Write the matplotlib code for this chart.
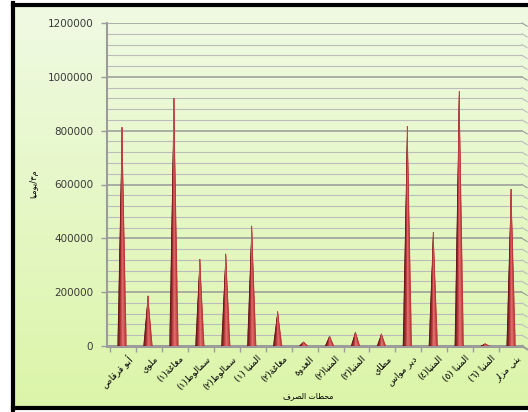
"""3D-style cone chart of daily discharge (m3/day) for Minya treatment plants."""

import matplotlib
matplotlib.use("Agg")

import matplotlib.pyplot as plt
import numpy as np
from matplotlib.colors import LinearSegmentedColormap
from matplotlib.lines import Line2D


# ---------------------------------------------------------------------------
# Data
# ---------------------------------------------------------------------------
PLANTS = [
    "أبو قرقاص", "ملوي", "مغاغة(١)", "سمالوط(١)", "سمالوط(٢)", "المنيا (١)",
    "مغاغة(٢)", "العدوة", "المنيا(٢)", "المنيا(٣)", "مطاي", "دير مواس",
    "المنيا(٤)", "المنيا (٥)", "المنيا (٦)", "بني مزار",
]
DISCHARGE = [
    812000, 186000, 921000, 323000, 342000, 446000,
    128000, 15000, 37000, 52000, 45000, 817000,
    423000, 947000, 8000, 583000,
]
Y_TICKS = [0, 200000, 400000, 600000, 800000, 1000000, 1200000]
X_TITLE = "محطات الصرف"
Y_TITLE = "م٣/يوميا"

# ---------------------------------------------------------------------------
# Style
# ---------------------------------------------------------------------------
WIDTH_PX, HEIGHT_PX = 528, 412
BG_TOP = (0.94, 0.98, 0.89)
BG_BOTTOM = (0.86, 0.96, 0.66)
GRID_MINOR = "#bcbcbc"
GRID_MAJOR = "#999999"
AXIS_GRAY = "#9c9c9c"
TEXT_DARK = "#3a3a3a"
CONE_CMAP = LinearSegmentedColormap.from_list(
    "cone", ["#5a0c11", "#8e1f24", "#c23d41", "#e36d6e", "#d65658", "#b83236"])


# ---------------------------------------------------------------------------
# Minimal Arabic shaping (matplotlib has no bidi / joining support)
# ---------------------------------------------------------------------------
# letter: (isolated, final, initial, medial)
FORMS = {
    "ا": ("\uFE8D", "\uFE8E", None, None),
    "أ": ("\uFE83", "\uFE84", None, None),
    "ب": ("\uFE8F", "\uFE90", "\uFE91", "\uFE92"),
    "ة": ("\uFE93", "\uFE94", None, None),
    "ت": ("\uFE95", "\uFE96", "\uFE97", "\uFE98"),
    "ح": ("\uFEA1", "\uFEA2", "\uFEA3", "\uFEA4"),
    "د": ("\uFEA9", "\uFEAA", None, None),
    "ر": ("\uFEAD", "\uFEAE", None, None),
    "ز": ("\uFEAF", "\uFEB0", None, None),
    "س": ("\uFEB1", "\uFEB2", "\uFEB3", "\uFEB4"),
    "ص": ("\uFEB9", "\uFEBA", "\uFEBB", "\uFEBC"),
    "ط": ("\uFEC1", "\uFEC2", "\uFEC3", "\uFEC4"),
    "ع": ("\uFEC9", "\uFECA", "\uFECB", "\uFECC"),
    "غ": ("\uFECD", "\uFECE", "\uFECF", "\uFED0"),
    "ف": ("\uFED1", "\uFED2", "\uFED3", "\uFED4"),
    "ق": ("\uFED5", "\uFED6", "\uFED7", "\uFED8"),
    "ل": ("\uFEDD", "\uFEDE", "\uFEDF", "\uFEE0"),
    "م": ("\uFEE1", "\uFEE2", "\uFEE3", "\uFEE4"),
    "ن": ("\uFEE5", "\uFEE6", "\uFEE7", "\uFEE8"),
    "ه": ("\uFEE9", "\uFEEA", "\uFEEB", "\uFEEC"),
    "و": ("\uFEED", "\uFEEE", None, None),
    "ي": ("\uFEF1", "\uFEF2", "\uFEF3", "\uFEF4"),
}


def shape_arabic(text: str) -> str:
    """Return text in visual (left-to-right) order with contextual letter forms."""
    shaped = []
    for index, char in enumerate(text):
        if char not in FORMS:
            shaped.append(char)
            continue
        previous = text[index - 1] if index > 0 else ""
        following = text[index + 1] if index + 1 < len(text) else ""
        joins_before = previous in FORMS and FORMS[previous][2] is not None
        joins_after = following in FORMS and FORMS[char][2] is not None
        isolated, final, initial, medial = FORMS[char]
        if joins_before and joins_after:
            shaped.append(medial)
        elif joins_before:
            shaped.append(final)
        elif joins_after:
            shaped.append(initial)
        else:
            shaped.append(isolated)
    visual = "".join(reversed(shaped))
    return visual.translate(str.maketrans("()", ")("))


# ---------------------------------------------------------------------------
# Drawing
# ---------------------------------------------------------------------------
def draw_background(figure: plt.Figure) -> None:
    """Light green gradient panel with a thick black frame."""
    left, top, bottom = 13 / WIDTH_PX, 5 / HEIGHT_PX, 408 / HEIGHT_PX
    back = figure.add_axes([left, 1 - bottom, 1 - left, bottom - top], zorder=-5)
    ramp = np.linspace(0, 1, 256)[:, None, None]
    colours = np.array(BG_TOP)[None, None, :] * (1 - ramp) + np.array(BG_BOTTOM) * ramp
    back.imshow(colours, aspect="auto", extent=(0, 1, 0, 1))
    back.axis("off")

    frame = dict(color="black", linewidth=3.0, transform=figure.transFigure)
    figure.add_artist(Line2D([left, left], [1 - bottom - 0.004, 1 - top + 0.004], **frame))
    figure.add_artist(Line2D([left, 1.0], [1 - top, 1 - top], **frame))
    figure.add_artist(Line2D([left, 1.0], [1 - bottom, 1 - bottom], **frame))


def draw_cone(axis: plt.Axes, x: float, height: float, half_width: float = 0.17) -> None:
    """Draw a shaded cone as thin triangular slivers meeting at the apex."""
    strips = 12
    edges = np.linspace(x - half_width, x + half_width, strips + 1)
    for k in range(strips):
        colour = CONE_CMAP(k / (strips - 1))
        axis.fill([edges[k], edges[k + 1], x], [0, 0, height],
                  facecolor=colour, edgecolor=colour, linewidth=0.3, zorder=4)


def main() -> None:
    figure = plt.figure(figsize=(WIDTH_PX / 100, HEIGHT_PX / 100), dpi=100)
    figure.patch.set_facecolor("white")
    draw_background(figure)

    axis = figure.add_axes([107 / WIDTH_PX, 1 - 346 / HEIGHT_PX,
                            (522 - 107) / WIDTH_PX, (346 - 23) / HEIGHT_PX])
    axis.patch.set_alpha(0)
    count = len(PLANTS)
    axis.set_xlim(-0.58, count - 0.58)
    axis.set_ylim(Y_TICKS[0], Y_TICKS[-1])

    # Gridlines every 40000, majors every 200000, with a small 3D bend at the right.
    x_end = count - 0.58
    for level in np.arange(40000, Y_TICKS[-1] + 1, 40000):
        major = level % 200000 == 0
        colour = GRID_MAJOR if major else GRID_MINOR
        axis.plot([-0.58, x_end], [level, level], color=colour,
                  linewidth=1.1 if major else 0.8, zorder=1)
        axis.plot([x_end, x_end + 0.2], [level, level - 12000], color=colour,
                  linewidth=0.8, zorder=1, clip_on=False)

    for position, value in enumerate(DISCHARGE):
        draw_cone(axis, position, value)

    # Axes: grey floor and wall.
    for side in ("top", "right"):
        axis.spines[side].set_visible(False)
    axis.spines["left"].set_color(AXIS_GRAY)
    axis.spines["left"].set_linewidth(1.5)
    axis.spines["bottom"].set_color(AXIS_GRAY)
    axis.spines["bottom"].set_linewidth(2.2)
    axis.plot([x_end, x_end + 0.2], [0, -12000], color=AXIS_GRAY,
              linewidth=1.5, clip_on=False)

    axis.set_yticks(Y_TICKS)
    axis.set_yticklabels([str(t) for t in Y_TICKS], fontsize=7.5, color=TEXT_DARK)
    axis.tick_params(axis="y", length=4, width=1, color=AXIS_GRAY, pad=6)

    axis.set_xticks(np.arange(count) - 0.46)
    axis.set_xticklabels([])
    axis.tick_params(axis="x", length=4, width=1, color=AXIS_GRAY)

    for position, name in enumerate(PLANTS):
        axis.text(position + 0.2, -0.025, shape_arabic(name),
                  transform=axis.get_xaxis_transform(), rotation=45,
                  rotation_mode="anchor", ha="right", va="top",
                  fontsize=6.5, color="black", family="DejaVu Sans")

    figure.text(308 / WIDTH_PX, 1 - 396 / HEIGHT_PX, shape_arabic(X_TITLE),
                ha="center", va="center", fontsize=5.5, color="black",
                family="DejaVu Sans")
    figure.text(34 / WIDTH_PX, 1 - 184 / HEIGHT_PX, shape_arabic(Y_TITLE),
                ha="center", va="center", rotation=90, fontsize=6,
                color="black", family="DejaVu Sans")

    figure.savefig("out.png", dpi=100, facecolor="white")
    plt.close(figure)


if __name__ == "__main__":
    main()
